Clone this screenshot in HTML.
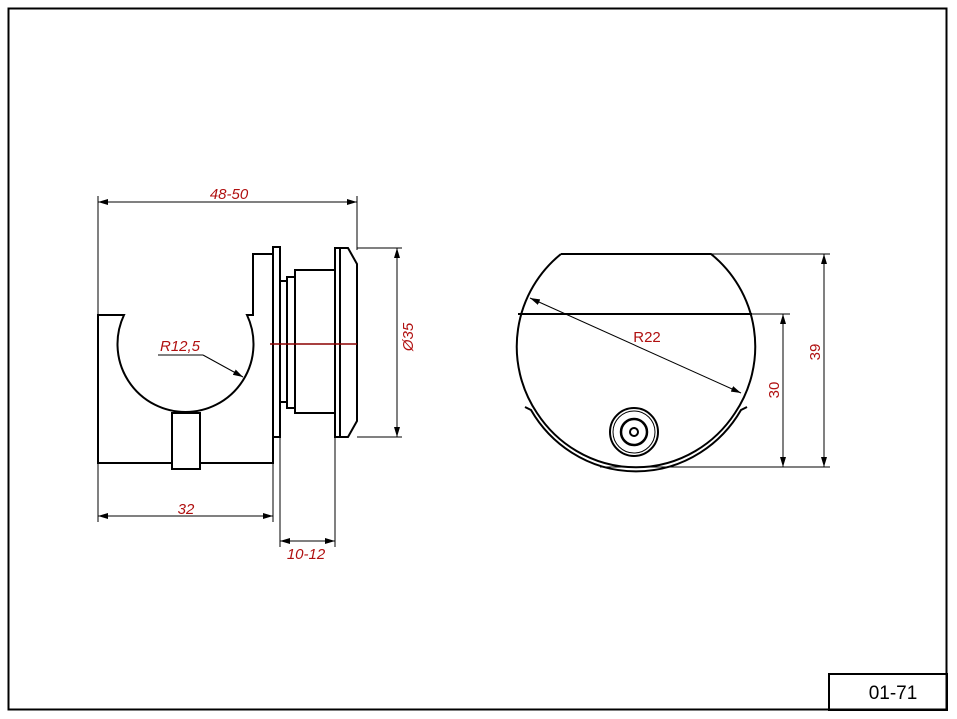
<!DOCTYPE html><html><head><style>body{margin:0;background:#fff}svg{display:block}</style></head><body>
<svg width="957" height="719" viewBox="0 0 957 719" xmlns="http://www.w3.org/2000/svg">
<defs><marker id="a" viewBox="0 0 10 6" refX="10" refY="3" markerWidth="10" markerHeight="6" orient="auto-start-reverse"><path d="M0,0L10,3L0,6z" fill="#000"/></marker></defs>
<rect x="8.5" y="8.5" width="938" height="701" fill="none" stroke="#000" stroke-width="2"/>
<rect x="829" y="674" width="118" height="36" fill="none" stroke="#000" stroke-width="2"/>
<text x="893" y="699" font-family="Liberation Sans,sans-serif" font-size="19" text-anchor="middle">01-71</text>
<g fill="none" stroke="#000" stroke-width="2">
<path d="M98,315H124A68,68 0 1 0 247,315H253V254H273V463H98Z"/>
<rect x="172" y="413" width="28" height="56" fill="#fff"/>
<rect x="273" y="247" width="7" height="190"/>
<rect x="280" y="281" width="7" height="121"/>
<rect x="287" y="277" width="8" height="131"/>
<rect x="295" y="270" width="40" height="143"/>
<rect x="335" y="248" width="5" height="189"/>
<path d="M340,248H348L357,264V421L348,437H340"/>
<path d="M561,254H711A119,119 0 0 1 735,413A119,122 0 0 1 537,413A119,119 0 0 1 561,254"/>
<path d="M518,314H752"/>
<path d="M525,407L531,410A122,125 0 0 0 741,410L747,407"/>
<circle cx="634" cy="432" r="24"/><circle cx="634" cy="432" r="21" stroke-width="1"/><circle cx="634" cy="432" r="13" stroke-width="2.5"/><circle cx="634" cy="432" r="4"/>
</g>
<g stroke="#000" stroke-width="1" fill="none">
<path d="M98,196V315M357,196V250M98,463V522M273,463V522M280,437V547M335,437V547M357,248H402M357,437H402M712,254H830M750,314H790M600,467H830"/>
<line x1="98" y1="202" x2="357" y2="202" marker-start="url(#a)" marker-end="url(#a)"/>
<line x1="98" y1="516" x2="273" y2="516" marker-start="url(#a)" marker-end="url(#a)"/>
<line x1="280" y1="541" x2="335" y2="541" marker-start="url(#a)" marker-end="url(#a)"/>
<line x1="397" y1="248" x2="397" y2="437" marker-start="url(#a)" marker-end="url(#a)"/>
<line x1="824" y1="254" x2="824" y2="467" marker-start="url(#a)" marker-end="url(#a)"/>
<line x1="783" y1="314" x2="783" y2="467" marker-start="url(#a)" marker-end="url(#a)"/>
<line x1="530" y1="298" x2="741" y2="393" marker-start="url(#a)" marker-end="url(#a)"/>
<path d="M158,355H203"/><line x1="203" y1="355" x2="243" y2="377" marker-end="url(#a)"/>
</g>
<line x1="270" y1="344" x2="357" y2="344" stroke="#8b0000" stroke-width="1.5"/>
<g fill="#b01010" font-family="Liberation Sans,sans-serif" font-size="15" font-style="italic">
<text x="229" y="199" text-anchor="middle">48-50</text>
<text x="186" y="514" text-anchor="middle">32</text>
<text x="306" y="559" text-anchor="middle">10-12</text>
<text x="180" y="351" text-anchor="middle">R12,5</text>
<text x="647" y="342" text-anchor="middle" font-style="normal">R22</text>
<text transform="translate(413,337) rotate(-90)" text-anchor="middle">Ø35</text>
<text transform="translate(779,390) rotate(-90)" text-anchor="middle" font-style="normal">30</text>
<text transform="translate(820,352) rotate(-90)" text-anchor="middle" font-style="normal">39</text>
</g>
</svg></body></html>
